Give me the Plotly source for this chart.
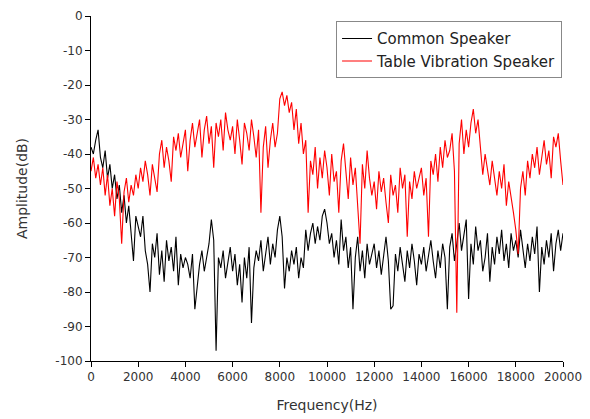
import numpy as np
import plotly.graph_objects as go

step_hz = 100

table_vibration = [
    -45, -41, -47, -43, -49, -44, -52, -46, -55, -50, -58, -48, -53, -66, -51, -47, -54, -49, -52, -46,
    -50, -44, -48, -42, -46, -52, -43, -47, -51, -40, -36, -44, -38, -42, -48, -35, -39, -34, -41, -37,
    -33, -45, -36, -31, -38, -34, -30, -41, -33, -29, -37, -32, -44, -31, -35, -30, -39, -28, -33, -36,
    -32, -40, -30, -36, -43, -31, -34, -39, -30, -35, -41, -33, -57, -38, -32, -44, -36, -31, -38, -34,
    -24, -22, -26, -23, -28, -25, -33, -27, -37, -31, -40, -36, -57, -42, -46, -38, -50, -41, -47, -39,
    -44, -52, -40, -48, -45, -57, -42, -37, -46, -53, -41, -49, -44, -55, -66, -43, -50, -39, -47, -52,
    -48, -56, -45, -51, -47, -54, -60, -46, -52, -49, -57, -44, -50, -46, -64, -48, -53, -45, -50, -47,
    -44, -52, -47, -64, -42, -46, -40, -48, -38, -44, -36, -41, -39, -34, -45, -86, -37, -30, -40, -33,
    -38, -31, -27, -34, -30, -38, -46, -40, -44, -49, -42, -47, -52, -45, -50, -43, -55, -48, -52, -57,
    -62, -69, -50, -45, -52, -42, -47, -40, -44, -38, -46, -41, -36, -43, -39, -47, -35, -38, -34, -42,
    -49,
]

common = [
    -38, -40, -36, -33, -41, -44, -39, -47, -43, -50, -46, -53, -49, -57, -52, -60, -55, -62, -71, -58,
    -61, -64, -58, -68, -72, -80, -66, -70, -63, -75, -68, -77, -65, -71, -67, -74, -64, -78, -69, -73,
    -70, -72, -76, -69, -85, -78, -72, -68, -74, -70, -66, -59, -65, -97, -70, -73, -68, -76, -71, -67,
    -74, -69, -78, -72, -83, -70, -76, -67, -89, -73, -68, -71, -65, -74, -69, -64, -72, -66, -70, -62,
    -58, -64, -79, -70, -74, -68, -72, -67, -76, -70, -73, -62, -68, -63, -60, -66, -61, -65, -58, -56,
    -60, -66, -63, -70, -65, -72, -59, -68, -64, -73, -67, -85, -70, -64, -74, -68, -76, -66, -72, -69,
    -66, -73, -68, -75, -70, -64, -71, -85, -84, -69, -74, -67, -72, -77, -68, -73, -66, -71, -78, -69,
    -72, -67, -74, -69, -65, -71, -76, -68, -73, -66, -70, -85, -67, -63, -71, -66, -60, -68, -64, -59,
    -82, -66, -72, -61, -68, -65, -74, -70, -63, -77, -67, -72, -64, -69, -62, -71, -66, -73, -63, -68,
    -65, -70, -62, -68, -73, -66, -71, -64, -69, -61, -80, -67, -72, -65, -70, -63, -74, -66, -62, -68,
    -63,
]

freq_common = np.arange(len(common)) * step_hz
freq_table = np.arange(len(table_vibration)) * step_hz

x_ticks = list(range(0, 20001, 2000))
y_ticks = list(range(-100, 1, 10))

fig = go.Figure()
fig.add_trace(go.Scatter(x=freq_common, y=common, mode="lines", name="Common Speaker",
                         line=dict(color="#000000", width=1.1)))
fig.add_trace(go.Scatter(x=freq_table, y=table_vibration, mode="lines", name="Table Vibration Speaker",
                         line=dict(color="#ff0000", width=1.1)))

axis_common = dict(showline=True, linecolor="#000000", linewidth=1, ticks="outside",
                   ticklen=5, tickcolor="#000000", showgrid=False, zeroline=False,
                   tickfont=dict(family="DejaVu Sans", size=12, color="#333333"),
                   mirror=False, automargin=False, ticklabeloverflow="allow")

# the page body has an 8px default margin, so the figure is sized to fit the window
fig.update_layout(
    width=582, height=411,
    margin=dict(l=83, r=27, t=8, b=58),
    paper_bgcolor="white", plot_bgcolor="white",
    font=dict(family="DejaVu Sans", color="#333333"),
    xaxis=dict(range=[0, 20000], tickvals=x_ticks, ticktext=[str(v) for v in x_ticks],
               title=dict(text="Frequency(Hz)", font=dict(size=14), standoff=16), **axis_common),
    yaxis=dict(range=[-100, 0], tickvals=y_ticks, ticktext=[str(v) for v in y_ticks],
               title=dict(text="Amplitude(dB)", font=dict(size=14), standoff=24), **axis_common),
    legend=dict(x=0.998, y=0.985, xanchor="right", yanchor="top",
                bordercolor="#888888", borderwidth=1, bgcolor="white",
                font=dict(family="DejaVu Sans", size=15, color="#222222"), tracegroupgap=0),
    showlegend=True,
)

fig.write_html("out.html")
